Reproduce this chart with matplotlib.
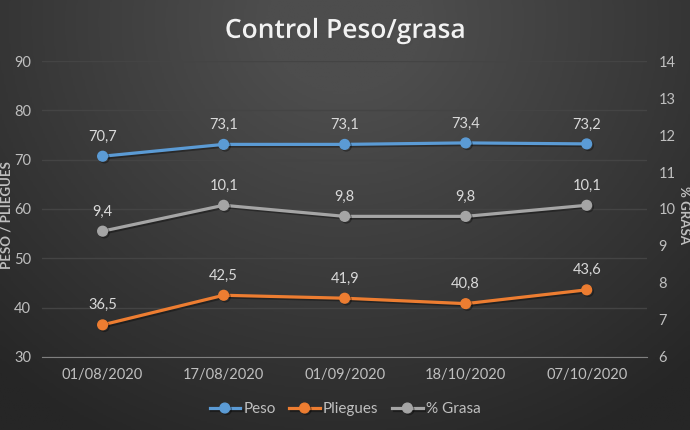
import numpy as np
import matplotlib
matplotlib.use("Agg")
import matplotlib.pyplot as plt
import matplotlib.patheffects as pe

plt.rcParams['font.family'] = ['Lato', 'DejaVu Sans']

fechas = ["01/08/2020", "17/08/2020", "01/09/2020", "18/10/2020", "07/10/2020"]
peso = [70.7, 73.1, 73.1, 73.4, 73.2]
pliegues = [36.5, 42.5, 41.9, 40.8, 43.6]
grasa = [9.4, 10.1, 9.8, 9.8, 10.1]

c_peso = "#5B9BD5"
c_pliegues = "#ED7D31"
c_grasa = "#A5A5A5"
txt = "#D9D9D9"
tick_col = "#BFBFBF"

fig = plt.figure(figsize=(6.9, 4.3), dpi=100)

# radial-ish gradient background
bg = fig.add_axes([0, 0, 1, 1], zorder=-10)
yy, xx = np.mgrid[0:1:200j, 0:1:320j]
r = np.sqrt(((xx - 0.5) / 0.75) ** 2 + ((yy - 0.05) / 1.1) ** 2)
vals = np.clip(1 - r, 0, 1)
bg.imshow(vals, cmap=matplotlib.colors.LinearSegmentedColormap.from_list("g", ["#262626", "#4d4d4d"]),
          extent=[0, 1, 0, 1], aspect="auto", origin="upper", vmin=0, vmax=0.85)
bg.axis("off")

ax = fig.add_axes([0.061, 0.170, 0.877, 0.688])
ax.patch.set_alpha(0)
x = np.arange(len(fechas))
ax.set_xlim(-0.5, len(fechas) - 0.5)
ax.set_ylim(30, 90)
ax.set_yticks(range(30, 91, 10))
ax.grid(axis="y", color="#444444", linewidth=1)
ax.set_axisbelow(True)
for s in ["top", "right", "left"]:
    ax.spines[s].set_visible(False)
ax.spines["bottom"].set_color("#7f7f7f")
ax.tick_params(axis="both", length=0, colors=tick_col, labelsize=10.5, pad=8)
ax.set_xticks(x)
ax.set_xticklabels(fechas)

ax2 = ax.twinx()
ax2.set_ylim(6, 14)
ax2.set_yticks(range(6, 15))
for s in ax2.spines.values():
    s.set_visible(False)
ax2.tick_params(axis="y", length=0, colors=tick_col, labelsize=10.5, pad=8)

shadow = [pe.SimpleLineShadow(offset=(1.2, -1.2), alpha=0.35, shadow_color="black"), pe.Normal()]
l1, = ax.plot(x, peso, color=c_peso, lw=2.3, marker="o", ms=7, label="Peso", path_effects=shadow)
l2, = ax.plot(x, pliegues, color=c_pliegues, lw=2.3, marker="o", ms=7, label="Pliegues", path_effects=shadow)
l3, = ax2.plot(x, grasa, color=c_grasa, lw=2.3, marker="o", ms=7, label="% Grasa", path_effects=shadow)

for xi, v in zip(x, peso):
    ax.annotate(f"{v:.1f}".replace(".", ","), (xi, v), xytext=(0, 9), textcoords="offset points",
                ha="center", va="bottom", color=txt, fontsize=10.5)
for xi, v in zip(x, pliegues):
    ax.annotate(f"{v:.1f}".replace(".", ","), (xi, v), xytext=(0, 9), textcoords="offset points",
                ha="center", va="bottom", color=txt, fontsize=10.5)
for xi, v in zip(x, grasa):
    ax2.annotate(f"{v:.1f}".replace(".", ","), (xi, v), xytext=(0, 9), textcoords="offset points",
                 ha="center", va="bottom", color=txt, fontsize=10.5)

fig.text(0.5, 0.927, "Control Peso/grasa", ha="center", va="center", color="#F2F2F2",
         fontsize=19, fontweight="semibold", family=["Open Sans", "DejaVu Sans"],
         path_effects=[pe.withSimplePatchShadow(offset=(1.5, -1.5), alpha=0.5)])

fig.text(0.009, 0.50, "PESO / PLIEGUES", rotation=90, ha="center", va="center",
         color=tick_col, fontsize=9.5, fontweight="bold")
fig.text(0.991, 0.50, "% GRASA", rotation=270, ha="center", va="center",
         color=tick_col, fontsize=9.5, fontweight="bold")

leg = fig.legend(handles=[l1, l2, l3], loc="center", bbox_to_anchor=(0.5, 0.048), ncol=3,
                 frameon=False, fontsize=11, handlelength=2.0, columnspacing=0.9, handletextpad=0.2)
for t in leg.get_texts():
    t.set_color(tick_col)

fig.savefig("out.png", dpi=100)
